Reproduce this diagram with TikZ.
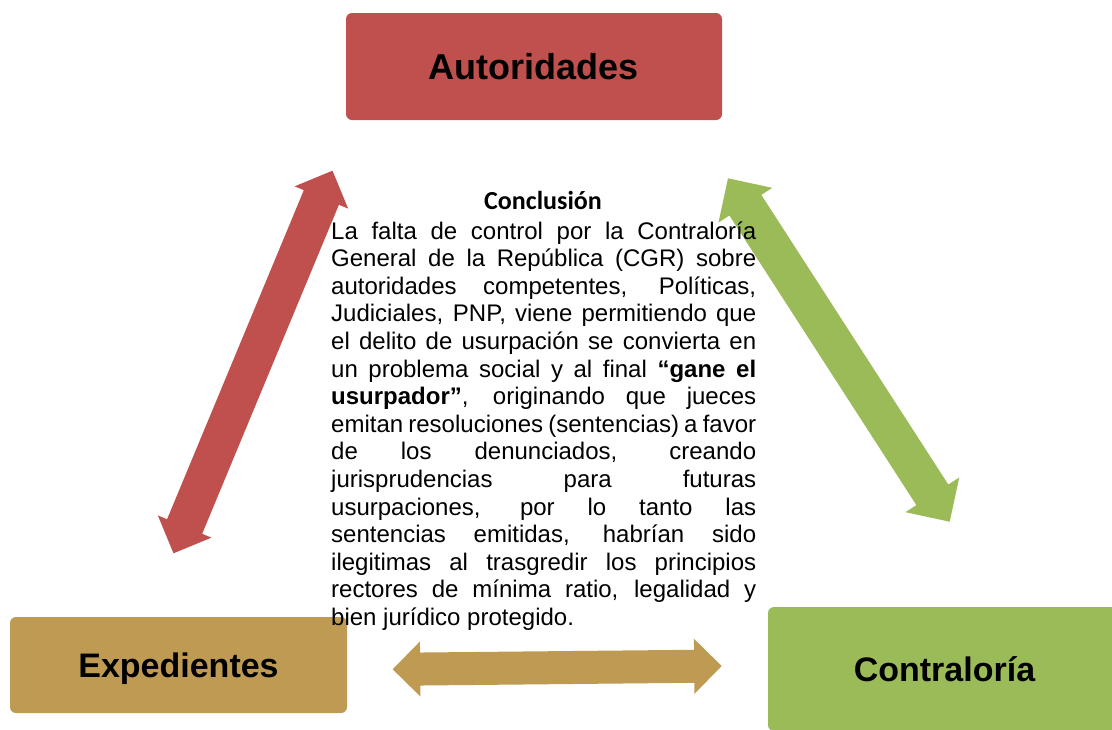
\documentclass[tikz,border=0pt]{standalone}
\usepackage{fontspec}
\setmainfont{Liberation Sans}
\newfontfamily\calibri{Carlito}
\usetikzlibrary{calc}
\definecolor{redc}{HTML}{C0504D}
\definecolor{tanc}{HTML}{BE9A52}
\definecolor{greenc}{HTML}{9BBB59}
\tikzset{
  box/.style={rounded corners=6pt, inner sep=0pt, text depth=0pt},
  bigfont/.style={font=\fontsize{36}{40}\selectfont\bfseries},
  midfont/.style={font=\fontsize{34}{38}\selectfont\bfseries},
}
% #1 colour, #2 tip A, #3 tip B, #4 head length, #5 half head width, #6 half shaft width
\newcommand\dblarr[6]{%
  \coordinate (NA) at ($(#2)!#4!(#3)$);
  \coordinate (NB) at ($(#3)!#4!(#2)$);
  \fill[#1] (#2) -- ($(NA)!#5!90:(#3)$) -- ($(NA)!#6!90:(#3)$)
    -- ($(NB)!#6!-90:(#2)$) -- ($(NB)!#5!-90:(#2)$) -- (#3)
    -- ($(NB)!#5!90:(#2)$) -- ($(NB)!#6!90:(#2)$)
    -- ($(NA)!#6!-90:(#3)$) -- ($(NA)!#5!-90:(#3)$) -- cycle;
}
\begin{document}
\begin{tikzpicture}[x=1pt,y=-1pt]
\useasboundingbox (0,0) rectangle (1112,729);
\clip (0,0) rectangle (1112,729);
\fill[white] (0,0) rectangle (1112,729);

\node[box, bigfont, fill=redc, minimum width=376pt, minimum height=107pt] (aut) at (534,66.5) {Autoridades};
\node[box, midfont, fill=tanc, minimum width=337pt, minimum height=96pt] (exp) at (178.5,665) {Expedientes};
\node[box, midfont, fill=greenc, minimum width=353pt, minimum height=124pt] (con) at (944.5,669) {Contraloría};

\coordinate (redA) at (332.5,170.7);
\coordinate (redB) at (173.5,553.3);
\coordinate (grnA) at (728,178.3);
\coordinate (grnB) at (949.7,521.7);
\coordinate (tanA) at (392.7,669.3);
\coordinate (tanB) at (721.7,666);

\dblarr{redc}{redA}{redB}{29pt}{29pt}{19pt}
\dblarr{greenc}{grnA}{grnB}{32pt}{32pt}{19pt}
\dblarr{tanc}{tanA}{tanB}{27.5pt}{27.5pt}{16.5pt}

\node[anchor=base, inner sep=0pt, font=\calibri\bfseries\fontsize{26}{30}\selectfont] (ttl) at (543,209) {Conclusión};
\node[anchor=base west, inner sep=0pt, text width=425pt, align=justify,
      font=\fontsize{24}{27.6}\selectfont] (body) at (331,239)
{La falta de control por la Contraloría\linebreak
General de la República (CGR) sobre\linebreak
autoridades competentes, Políticas,\linebreak
Judiciales, PNP, viene permitiendo que\linebreak
el delito de usurpación se convierta en\linebreak
un problema social y al final \textbf{“gane el\linebreak
usurpador”}, originando que jueces\linebreak
emitan resoluciones (sentencias) a favor\linebreak
de los denunciados, creando\linebreak
jurisprudencias para futuras\linebreak
usurpaciones, por lo tanto las\linebreak
sentencias emitidas, habrían sido\linebreak
ilegitimas al trasgredir los principios\linebreak
rectores de mínima ratio, legalidad y\linebreak
bien jurídico protegido.};
\end{tikzpicture}
\end{document}
